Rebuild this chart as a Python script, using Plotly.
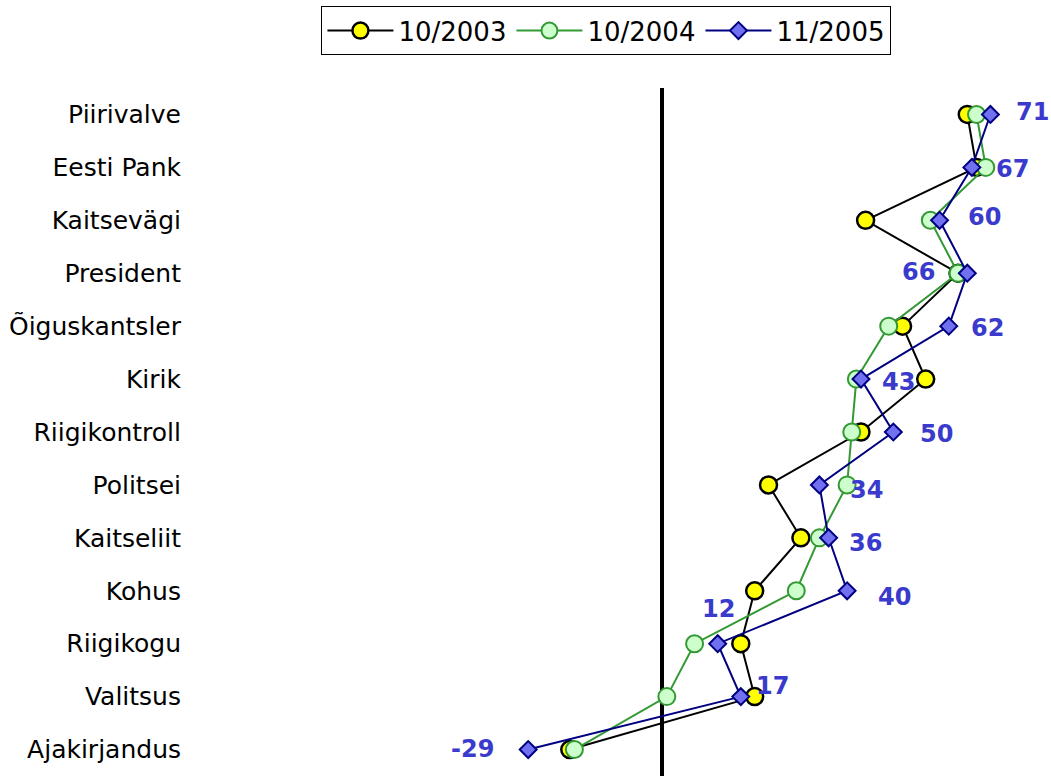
import plotly.graph_objects as go

categories = ["Piirivalve", "Eesti Pank", "Kaitsevägi", "President", "Õiguskantsler",
              "Kirik", "Riigikontroll", "Politsei", "Kaitseliit", "Kohus",
              "Riigikogu", "Valitsus", "Ajakirjandus"]
s2003 = [66, 68, 44, 64, 52, 57, 43, 23, 30, 20, 17, 20, -20]
s2004 = [68, 70, 58, 64, 49, 42, 41, 40, 34, 29, 7, 1, -19]
s2005 = [71, 67, 60, 66, 62, 43, 50, 34, 36, 40, 12, 17, -29]
series_names = ["10/2003", "10/2004", "11/2005"]

# label offsets (pixels) for the 11/2005 value labels
label_dx = [42, 41, 45, -49, 39, 38, 43, 47, 37, 47, 1, 32, -56]
label_dy = [-2, 2, -3, -1, 2, 3, 2, 5, 5, 6, -35, -11, -1]

FONT = "DejaVu Sans, Verdana, sans-serif"

fig = go.Figure()
fig.add_trace(go.Scatter(
    x=s2003, y=categories, name=series_names[0], mode="lines+markers",
    line=dict(color="black", width=2),
    marker=dict(symbol="circle", size=17, color="#ffff00", line=dict(color="black", width=2.5)),
))
fig.add_trace(go.Scatter(
    x=s2004, y=categories, name=series_names[1], mode="lines+markers",
    line=dict(color="#339933", width=2),
    marker=dict(symbol="circle", size=17, color="#ccffcc", line=dict(color="#339933", width=2)),
))
fig.add_trace(go.Scatter(
    x=s2005, y=categories, name=series_names[2], mode="lines+markers",
    line=dict(color="#000080", width=2),
    marker=dict(symbol="diamond", size=13, color="#7070f0", line=dict(color="#000080", width=2)),
))

for v, c, dx, dy in zip(s2005, categories, label_dx, label_dy):
    fig.add_annotation(x=v, y=c, text=str(v), showarrow=False,
                       xshift=dx, yshift=-dy,
                       font=dict(family=FONT, size=24, color="#3a3acc", weight="bold"))

fig.update_layout(
    width=1051, height=776,
    margin=dict(l=200, r=19, t=88, b=0),
    plot_bgcolor="white", paper_bgcolor="white",
    font=dict(family=FONT, size=25, color="black"),
    showlegend=True,
    legend=dict(orientation="h", xref="container", yref="container",
                x=0.577, xanchor="center", y=0.992, yanchor="top",
                bordercolor="black", borderwidth=1, bgcolor="white",
                font=dict(family=FONT, size=26, color="black"),
                itemwidth=66, tracegroupgap=0),
    xaxis=dict(range=[-100, 80], showgrid=False, showticklabels=False, ticks="",
               zeroline=True, zerolinecolor="black", zerolinewidth=4, showline=False),
    yaxis=dict(type="category", categoryorder="array", categoryarray=categories,
               range=[12.5, -0.5], showgrid=False, zeroline=False, showline=False,
               ticks="", ticklabelstandoff=18,
               tickfont=dict(family=FONT, size=25, color="black")),
)

fig.write_html("out.html",
               config={"displayModeBar": False},
               post_script="document.body.style.margin='0px';document.body.style.overflow='hidden';")
